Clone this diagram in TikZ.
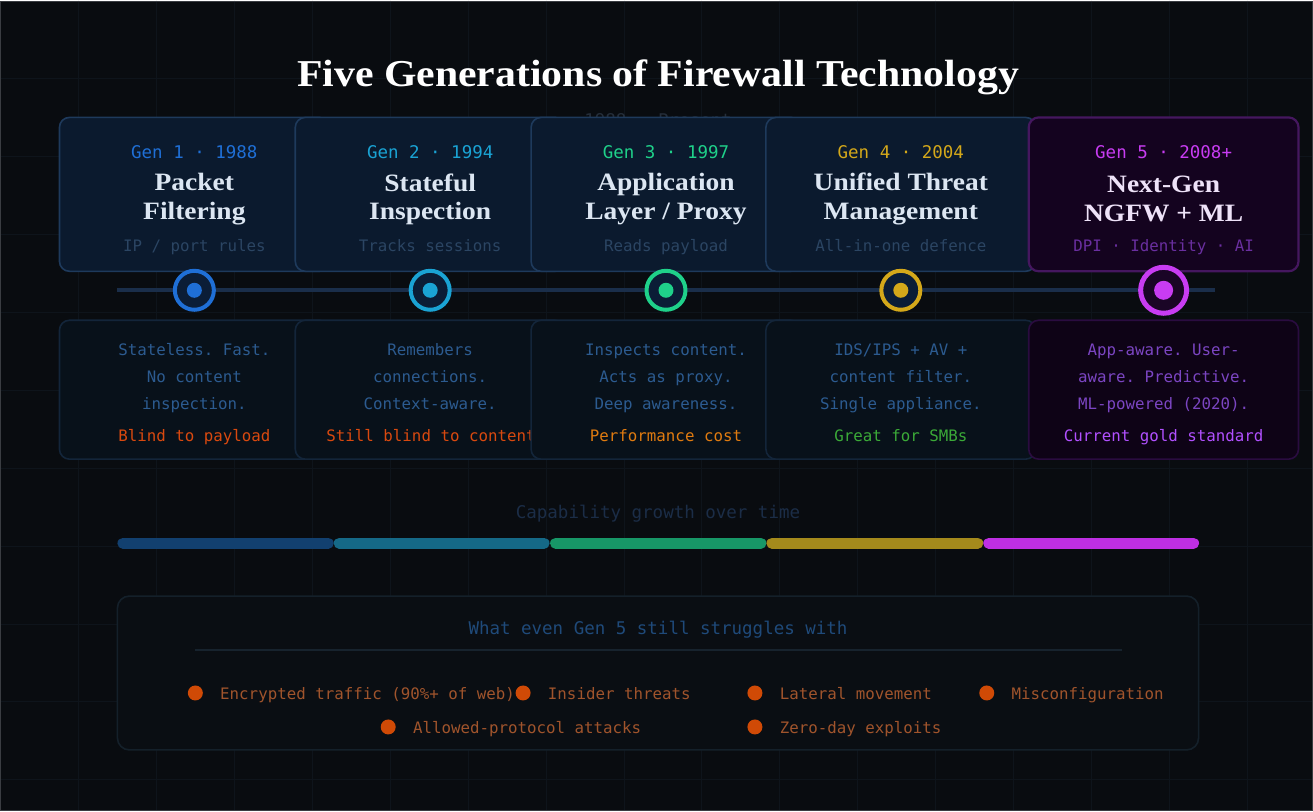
\documentclass[tikz,border=0pt]{standalone}
\usepackage{fontspec}
\setmainfont{Liberation Serif}
\setmonofont{DejaVu Sans Mono}
\newfontfamily\headfont[FakeStretch=1.1]{Liberation Serif}
\usetikzlibrary{positioning}

\definecolor{pagebg}{HTML}{090C10}
\definecolor{gridc}{HTML}{0E141B}
\definecolor{framec}{HTML}{3A3D42}
\definecolor{cardfill}{HTML}{0B1A2E}
\definecolor{cardline}{HTML}{1E3A5C}
\definecolor{lowfill}{HTML}{08111A}
\definecolor{lowline}{HTML}{13253A}
\definecolor{topfiveF}{HTML}{14031F}
\definecolor{topfiveL}{HTML}{45175F}
\definecolor{lowfiveF}{HTML}{0E0316}
\definecolor{lowfiveL}{HTML}{2A0C40}
\definecolor{headtext}{HTML}{DCE6F2}
\definecolor{headfive}{HTML}{EEE2F8}
\definecolor{subdim}{HTML}{2B4563}
\definecolor{subfive}{HTML}{6A2FA0}
\definecolor{desctext}{HTML}{2C5B90}
\definecolor{descfive}{HTML}{7B45C2}
\definecolor{gen1}{HTML}{1F6FD6}
\definecolor{gen2}{HTML}{1AA3D4}
\definecolor{gen3}{HTML}{1FD18A}
\definecolor{gen4}{HTML}{D4A81A}
\definecolor{gen5}{HTML}{C83CF2}
\definecolor{neg1}{HTML}{D9490F}
\definecolor{neg3}{HTML}{E07B10}
\definecolor{neg4}{HTML}{3BAA38}
\definecolor{neg5}{HTML}{B150FF}
\definecolor{railc}{HTML}{1A2E4A}
\definecolor{ringfill}{HTML}{0B1D36}
\definecolor{ringfive}{HTML}{1A0526}
\definecolor{capA}{HTML}{12406F}
\definecolor{capB}{HTML}{156987}
\definecolor{capC}{HTML}{179767}
\definecolor{capD}{HTML}{A48A1C}
\definecolor{capE}{HTML}{BE2FE3}
\definecolor{capdim}{HTML}{1B2D47}
\definecolor{erac}{HTML}{252E3A}
\definecolor{panelF}{HTML}{0A0E13}
\definecolor{panelL}{HTML}{14202A}
\definecolor{paneltext}{HTML}{1F4A7A}
\definecolor{dividerc}{HTML}{17232E}
\definecolor{bulletc}{HTML}{D04A06}
\definecolor{bullettext}{HTML}{A0542C}

\begin{document}
\begin{tikzpicture}[x=1pt, y=-1pt,
    card/.style={rectangle, rounded corners=10pt, minimum width=270pt, minimum height=154pt, line width=1.6pt, draw=cardline, fill=cardfill, inner sep=0pt},
    cardfive/.style={card, draw=topfiveL, fill=topfiveF, line width=2.2pt},
    cardlow/.style={card, minimum height=139pt, draw=lowline, fill=lowfill},
    cardlowfive/.style={cardlow, draw=lowfiveL, fill=lowfiveF},
    mono/.style={inner sep=0pt, text height=11pt, text depth=1pt},
    genlbl/.style={mono, font=\fontsize{17.5}{20}\ttfamily},
    headlbl/.style={inner sep=0pt, font=\fontsize{25}{29}\headfont\bfseries, text=headtext, align=center},
    sublbl/.style={mono, font=\fontsize{15.8}{18}\ttfamily, text=subdim},
    desclbl/.style={inner sep=0pt, font=\fontsize{15.8}{27}\ttfamily, text=desctext, align=center},
    neglbl/.style={mono, font=\fontsize{15.8}{18}\ttfamily},
    ring/.style={circle, minimum size=39pt, inner sep=0pt, line width=4pt, fill=ringfill},
    core/.style={circle, minimum size=15pt, inner sep=0pt},
    capbar/.style={line width=11pt, line cap=round},
    bullet/.style={circle, minimum size=15pt, inner sep=0pt, fill=bulletc},
    bulltext/.style={mono, font=\fontsize{15.8}{18}\ttfamily, text=bullettext, right=17pt of #1, yshift=-1.5pt},
  ]
  % backdrop
  \fill[pagebg] (0,0) rectangle (1313,811);
  \foreach \g in {78,156,...,1300} \draw[gridc, line width=1pt] (\g,0) -- (\g,811);
  \foreach \g in {78,156,...,800} \draw[gridc, line width=1pt] (0,\g) -- (1313,\g);
  \draw[framec, line width=1pt] (0.5,0.5) rectangle (1312.5,810.5);

  \node[inner sep=0pt, font=\fontsize{38}{40}\headfont\bfseries, text=white] (title) at (658,77) {Five Generations of Firewall Technology};
  \node[genlbl, text=erac] (era) at (658,121) {1988 · Present};

  % gen 1
  \node[card] (top1) at (194,194) {};
  \node[genlbl, text=gen1] (gen1lbl) at (194,153.5) {Gen 1 · 1988};
  \node[headlbl] (head1) at (194,199) {Packet\\Filtering};
  \node[sublbl] (sub1) at (194,246) {IP / port rules};
  \node[cardlow] (low1) at (194,389.5) {};
  \node[desclbl] (desc1) at (194,378) {Stateless. Fast.\\No content\\inspection.};
  \node[neglbl, text=neg1] (neg1lbl) at (194,436) {Blind to payload};

  % gen 2
  \node[card] (top2) at (430,194) {};
  \node[genlbl, text=gen2] (gen2lbl) at (430,153.5) {Gen 2 · 1994};
  \node[headlbl] (head2) at (430,199) {Stateful\\Inspection};
  \node[sublbl] (sub2) at (430,246) {Tracks sessions};
  \node[cardlow] (low2) at (430,389.5) {};
  \node[desclbl] (desc2) at (430,376) {Remembers\\connections.\\Context-aware.};
  \node[neglbl, text=neg1, anchor=west] (neg2lbl) at (326,436) {Still blind to content};

  % gen 3
  \node[card] (top3) at (666,194) {};
  \node[genlbl, text=gen3] (gen3lbl) at (666,153.5) {Gen 3 · 1997};
  \node[headlbl] (head3) at (666,199) {Application\\Layer / Proxy};
  \node[sublbl] (sub3) at (666,246) {Reads payload};
  \node[cardlow] (low3) at (666,389.5) {};
  \node[desclbl] (desc3) at (666,378) {Inspects content.\\Acts as proxy.\\Deep awareness.};
  \node[neglbl, text=neg3] (neg3lbl) at (666,436) {Performance cost};

  % gen 4
  \node[card] (top4) at (901,194) {};
  \node[genlbl, text=gen4] (gen4lbl) at (901,153.5) {Gen 4 · 2004};
  \node[headlbl] (head4) at (901,199) {Unified Threat\\Management};
  \node[sublbl] (sub4) at (901,246) {All-in-one defence};
  \node[cardlow] (low4) at (901,389.5) {};
  \node[desclbl] (desc4) at (901,378) {IDS/IPS + AV +\\content filter.\\Single appliance.};
  \node[neglbl, text=neg4] (neg4lbl) at (901,436) {Great for SMBs};

  % gen 5
  \node[cardfive] (top5) at (1164,194) {};
  \node[genlbl, text=gen5] (gen5lbl) at (1164,153.5) {Gen 5 · 2008+};
  \node[headlbl, text=headfive] (head5) at (1164,199) {Next-Gen\\NGFW + ML};
  \node[sublbl, text=subfive] (sub5) at (1164,246) {DPI · Identity · AI};
  \node[cardlowfive] (low5) at (1164,389.5) {};
  \node[desclbl, text=descfive] (desc5) at (1164,378) {App-aware. User-\\aware. Predictive.\\ML-powered (2020).};
  \node[neglbl, text=neg5] (neg5lbl) at (1164,436) {Current gold standard};

  % timeline
  \coordinate (railA) at (117,290);
  \coordinate (railB) at (1215,290);
  \draw[railc, line width=4pt] (railA) -- (railB);
  \node[ring, draw=gen1] (ring1) at (194,290) {};
  \node[core, fill=gen1] (core1) at (ring1) {};
  \node[ring, draw=gen2] (ring2) at (430,290) {};
  \node[core, fill=gen2] (core2) at (ring2) {};
  \node[ring, draw=gen3] (ring3) at (666,290) {};
  \node[core, fill=gen3] (core3) at (ring3) {};
  \node[ring, draw=gen4] (ring4) at (901,290) {};
  \node[core, fill=gen4] (core4) at (ring4) {};
  \node[ring, draw=gen5, fill=ringfive, minimum size=46pt, line width=5pt] (ring5) at (1164,290) {};
  \node[core, fill=gen5, minimum size=19pt] (core5) at (ring5) {};

  % capability bar
  \node[genlbl, text=capdim] (caplbl) at (658,513) {Capability growth over time};
  \foreach \a/\b/\c in {122.5/328/capA, 339/544/capB, 555.5/761/capC, 772/978/capD, 989/1194/capE}
    \draw[capbar, \c] (\a,543) -- (\b,543);

  % struggles panel
  \node[rectangle, rounded corners=12pt, minimum width=1082pt, minimum height=154pt, fill=panelF, draw=panelL, line width=1.6pt] (panel) at (658,673) {};
  \node[genlbl, text=paneltext] (paneltitle) at (658,629) {What even Gen 5 still struggles with};
  \coordinate (divA) at (195,650);
  \coordinate (divB) at (1122,650);
  \draw[dividerc, line width=2pt] (divA) -- (divB);

  \node[bullet] (b1) at (195,693) {};
  \node[bulltext=b1] (t1) {Encrypted traffic (90\%+ of web)};
  \node[bullet] (b2) at (523,693) {};
  \node[bulltext=b2] (t2) {Insider threats};
  \node[bullet] (b3) at (755,693) {};
  \node[bulltext=b3] (t3) {Lateral movement};
  \node[bullet] (b4) at (987,693) {};
  \node[bulltext=b4] (t4) {Misconfiguration};
  \node[bullet] (b5) at (388,727) {};
  \node[bulltext=b5] (t5) {Allowed-protocol attacks};
  \node[bullet] (b6) at (755,727) {};
  \node[bulltext=b6] (t6) {Zero-day exploits};
\end{tikzpicture}
\end{document}
